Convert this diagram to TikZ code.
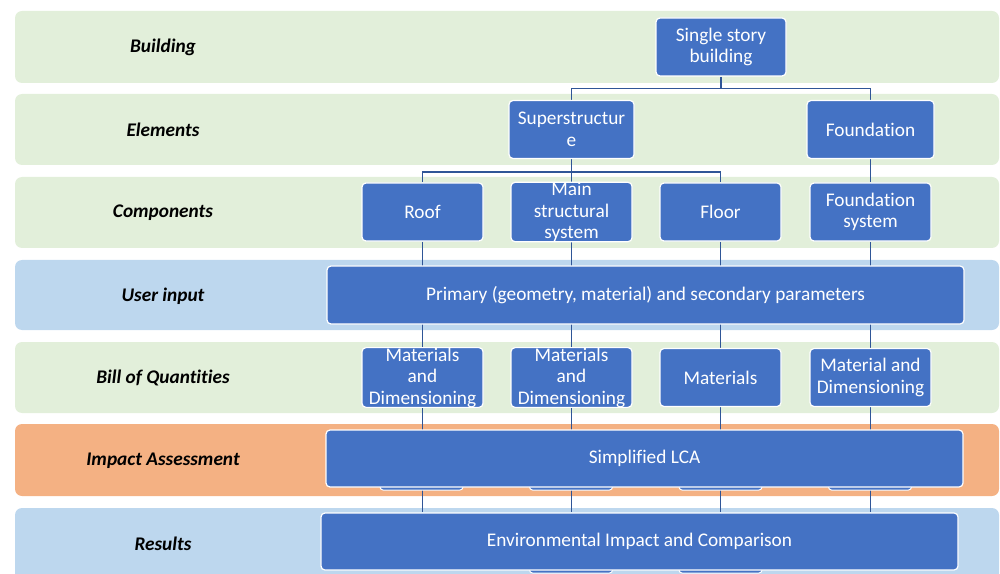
\documentclass[tikz,border=0pt]{standalone}
\usepackage{fontspec}
\setmainfont{Carlito}[Ligatures=NoCommon]
\pgfdeclarelayer{bg}
\pgfdeclarelayer{lines}
\pgfsetlayers{bg,lines,main}
\definecolor{bandgreen}{RGB}{226,239,218}
\definecolor{bandblue}{RGB}{189,215,238}
\definecolor{bandorange}{RGB}{244,177,131}
\definecolor{boxblue}{RGB}{68,114,196}
\definecolor{connblue}{RGB}{47,85,151}
\newcommand{\boxfont}{\fontsize{19.3bp}{21.5bp}\selectfont}
\newcommand{\lblfont}{\fontsize{19.3bp}{21.5bp}\selectfont\bfseries\itshape}
\tikzset{
  band/.style={rounded corners=7bp},
  bx/.style={draw=white, line width=1.2bp, fill=boxblue, rounded corners=4bp,
    text=white, align=center, font=\boxfont, inner sep=0pt,
    minimum height=58bp},
  hid/.style={draw=white, line width=1bp, fill=boxblue, rounded corners=3bp,
    inner sep=0pt, minimum width=83bp, minimum height=50bp},
  lbl/.style={font=\lblfont, text=black},
  conn/.style={draw=connblue, line width=1.4bp}
}
\begin{document}
\begin{tikzpicture}[x=1bp,y=-1bp]
\useasboundingbox (0,0) rectangle (1000,574);
% bands
\begin{pgfonlayer}{bg}
\fill[band,bandgreen] (15,11) rectangle (999,83);
\fill[band,bandgreen] (15,94) rectangle (999,165);
\fill[band,bandgreen] (15,177) rectangle (999,248);
\fill[band,bandblue] (15,260) rectangle (999,330);
\fill[band,bandgreen] (15,342) rectangle (999,413);
\fill[band,bandorange] (15,424) rectangle (999,496);
\fill[band,bandblue] (15,508) rectangle (999,590);
\end{pgfonlayer}
% row labels
\node[lbl] (lb1) at (163,47) {Building};
\node[lbl] (lb2) at (163,130) {Elements};
\node[lbl] (lb3) at (163,213) {Components};
\node[lbl] (lb4) at (163,296) {User input};
\node[lbl] (lb5) at (163,378) {Bill of Quantities};
\node[lbl] (lb6) at (163,461) {Impact Assessment};
\node[lbl] (lb7) at (163,544) {Results};
% hidden boxes behind the wide boxes
\node[hid] (h1) at (421.5,465) {};
\node[hid] (h2) at (571,465) {};
\node[hid] (h3) at (720.5,465) {};
\node[hid] (h4) at (870,465) {};
\node[hid] (e2) at (571,548) {};
\node[hid] (e3) at (720.5,548) {};
% boxes
\node[bx, minimum width=130bp] (sb) at (721,47) {Single story\\building};
\node[bx, minimum width=125bp] (sup) at (571.5,129.5) {Superstructur\\e};
\node[bx, minimum width=127bp] (fnd) at (870.5,129.5) {Foundation};
\node[bx, minimum width=121bp] (roof) at (422.5,212) {Roof};
\node[bx, minimum width=121bp] (main) at (571.5,212) {Main\\structural\\system};
\node[bx, minimum width=121bp] (floor) at (720.5,212) {Floor};
\node[bx, minimum width=121bp] (fsys) at (870.5,212) {Foundation\\system};
\node[bx, minimum width=637bp] (prim) at (645.5,295) {Primary (geometry, material) and secondary parameters};
\node[bx, minimum width=121bp] (q1) at (422.5,377.5) {Materials\\and\\Dimensioning};
\node[bx, minimum width=121bp] (q2) at (571.5,377.5) {Materials\\and\\Dimensioning};
\node[bx, minimum width=121bp] (q3) at (720.5,377.5) {Materials};
\node[bx, minimum width=121bp] (q4) at (870.5,377.5) {Material and\\Dimensioning};
\node[bx, minimum width=637bp, minimum height=57bp] (lca) at (644.5,458.5) {Simplified LCA};
\node[bx, minimum width=637bp, minimum height=57bp] (env) at (639.5,541.5) {Environmental Impact and Comparison};
% connectors
\begin{pgfonlayer}{lines}
\draw[conn] (sb.south) -- ++(0,12) coordinate (j1) -| (sup.north);
\draw[conn] (j1) -| (fnd.north);
\draw[conn] (sup.south) -- ++(0,13) coordinate (j2) -| (roof.north);
\draw[conn] (j2) -| (floor.north);
\draw[conn] (sup.south) -- (main.north);
\draw[conn] (fnd.south) -- (fsys.north);
\draw[conn] (roof.south) -- (q1.north);
\draw[conn] (main.south) -- (q2.north);
\draw[conn] (floor.south) -- (q3.north);
\draw[conn] (fsys.south) -- (q4.north);
\draw[conn] (q1.south) -- (q1.south |- env.north);
\draw[conn] (q2.south) -- (q2.south |- env.north);
\draw[conn] (q3.south) -- (q3.south |- env.north);
\draw[conn] (q4.south) -- (q4.south |- env.north);
\end{pgfonlayer}
\end{tikzpicture}
\end{document}
